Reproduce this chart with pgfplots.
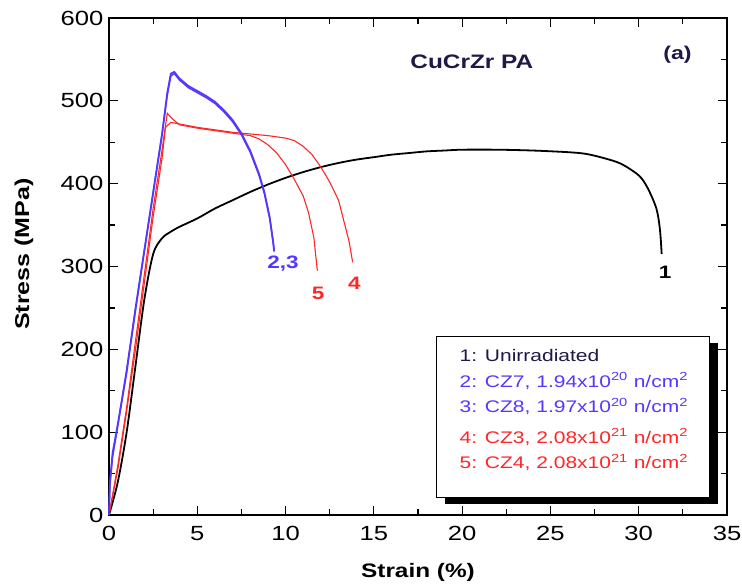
\documentclass[border=0pt]{standalone}
\usepackage{pgfplots}
\pgfplotsset{compat=1.18}
\usepackage{fontspec}
\setmainfont{Liberation Sans}[FakeStretch=1.25]
\definecolor{cblue}{rgb}{0.33,0.22,1}
\definecolor{cred}{rgb}{1,0.15,0.15}
\definecolor{cdark}{rgb}{0.12,0.1,0.28}
\begin{document}
\begin{tikzpicture}
\begin{axis}[
  scale only axis, width=618pt, height=497pt,
  xmin=0, xmax=35, ymin=0, ymax=600,
  xtick distance=5, ytick distance=100,
  minor x tick num=1, minor y tick num=1,
  tick align=inside,
  major tick length=9pt, minor tick length=6pt,
  axis line style={line width=1.6pt},
  every tick/.style={black, line width=1.2pt},
  /pgf/number format/assume math mode=true,
  ticklabel style={font=\fontsize{20.5}{22}\selectfont},
  xticklabel style={yshift=-8pt},
  yticklabel style={xshift=-2pt},
  xlabel={\textbf{Strain (\%)}}, ylabel={\textbf{Stress (MPa)}},
  xlabel style={font=\fontsize{19.5}{21}\selectfont, at={(axis description cs:0.5,-0.1147)}, anchor=center},
  ylabel style={font=\fontsize{20}{22}\selectfont, at={(axis description cs:-0.1375,0.525)}, anchor=center},
  clip=false,
]
% 1 unirradiated
\addplot[black, line width=1.8pt, smooth] coordinates {
(0,0)(0.5,40)(1,100)(1.5,180)(2,260)(2.5,315)(3,334)(3.5,342)(4,348)(5,358)(6,370)(7,380)(8,390)(9,399)(10,407)(11,414)(12,420)(13,425)(14,429)(15,432)(16,435)(17,437)(18,439)(19,440)(20,441)(22,441)(24,440)(26,438)(27,436)(28,431)(29,424)(30,410)(30.5,395)(31,370)(31.2,345)(31.3,315)};
% 5 CZ4
\addplot[cred, line width=1.1pt] coordinates {
(0,0)(0.5,60)(1,130)(1.5,210)(2,290)(2.5,370)(3,440)(3.3,485)(3.6,478)(4,471)(5,467)(6,464)(7,461)(8,458)(8.5,454)(9,447)(9.5,437)(10,423)(10.5,405)(11,385)(11.3,365)(11.6,335)(11.8,295)};
% 4 CZ3
\addplot[cred, line width=1.1pt] coordinates {
(0,0)(0.5,55)(1,125)(1.5,200)(2,280)(2.5,360)(3,430)(3.2,468)(3.5,474)(4,472)(5,468)(6,465)(7,462)(8,460)(9,458)(10,455)(10.5,452)(11,445)(11.5,435)(12,420)(12.5,402)(13,380)(13.3,355)(13.6,330)(13.8,305)};
% 2 CZ7
\addplot[cblue, line width=1.6pt] coordinates {
(0,0)(0.05,40)(0.2,75)(0.5,110)(1,175)(1.5,250)(2,320)(2.5,390)(3,460)(3.3,510)(3.5,533)(3.7,535)(4,527)(4.5,518)(5,512)(5.5,506)(6,499)(6.5,489)(7,477)(7.5,461)(8,440)(8.5,412)(8.8,390)(9.1,360)(9.3,330)(9.35,320)};
% 3 CZ8
\addplot[cblue, line width=1.6pt] coordinates {
(0,0)(0.05,35)(0.2,70)(0.5,108)(1,172)(1.5,247)(2,318)(2.5,388)(3,458)(3.3,507)(3.5,530)(3.7,533)(4,525)(4.5,516)(5,510)(5.5,504)(6,497)(6.5,487)(7,475)(7.5,459)(8,438)(8.5,410)(8.8,388)(9.1,358)(9.3,328)(9.35,318)};

\node[font=\fontsize{19.5}{21}\selectfont\bfseries, text=cdark] at (axis cs:20.55,547) {CuCrZr PA};
\node[font=\fontsize{18.5}{20}\selectfont\bfseries, text=cdark] at (axis cs:32.2,556) {(a)};
\node[font=\fontsize{18}{19}\selectfont\bfseries, text=cblue] at (axis cs:9.85,304) {2,3};
\node[font=\fontsize{18}{19}\selectfont\bfseries, text=cred] at (axis cs:11.85,268) {5};
\node[font=\fontsize{18}{19}\selectfont\bfseries, text=cred] at (axis cs:13.9,280) {4};
\node[font=\fontsize{18}{19}\selectfont\bfseries, text=black] at (axis cs:31.5,293) {1};

% legend box with shadow
\fill[black] (axis cs:19.02,13.2) rectangle (axis cs:34.48,207.5);
\draw[black, line width=1pt, fill=white] (axis cs:18.57,21.7) rectangle (axis cs:34.03,216);
\node[anchor=north west, align=left, inner sep=0pt, font=\fontsize{16.8}{25.5}\selectfont] at (axis cs:19.85,200) {%
\textcolor{cdark}{1: Unirradiated}\\
\textcolor{cblue}{2: CZ7, 1.94x10\textsuperscript{20} n/cm\textsuperscript{2}}\\
\textcolor{cblue}{3: CZ8, 1.97x10\textsuperscript{20} n/cm\textsuperscript{2}}\\[5pt]
\textcolor{cred}{4: CZ3, 2.08x10\textsuperscript{21} n/cm\textsuperscript{2}}\\
\textcolor{cred}{5: CZ4, 2.08x10\textsuperscript{21} n/cm\textsuperscript{2}}};
\end{axis}
\pgfresetboundingbox
\path (current axis.south west) ++(-109pt,-72pt) rectangle ([shift={(15pt,18pt)}]current axis.north east);
\end{tikzpicture}
\end{document}
